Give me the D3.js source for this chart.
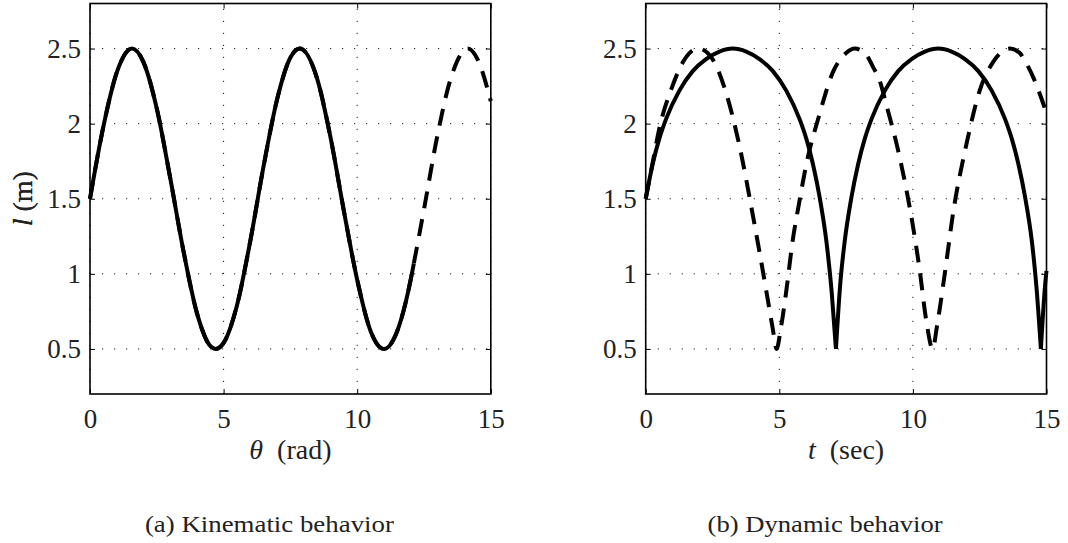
<!DOCTYPE html>
<html>
<head>
<meta charset="utf-8">
<script src="https://cdn.jsdelivr.net/npm/d3@7"></script>
<style>
  body { margin: 0; background: #fff; }
  svg text { font-family: "Liberation Serif", "DejaVu Serif", serif; fill: #222; }
</style>
</head>
<body>
<div id="fig"></div>
<script>
// (a) kinematic: l against theta
const thetaRad = [0, 0.5, 1, 1.57, 2, 2.5, 3, 3.5, 4, 4.5, 4.71, 5, 5.5, 6, 6.5, 7, 7.5, 7.85, 8.5, 9,
  9.5, 10, 10.5, 11, 11.5, 12, 12.12, 12.5, 13, 13.5, 14.14, 14.5, 15];
const lKinematic = [1.50, 1.98, 2.34, 2.50, 2.41, 2.10, 1.64, 1.15, 0.74, 0.52, 0.50, 0.54, 0.79, 1.22, 1.72, 2.16, 2.44, 2.50, 2.30, 1.91,
  1.42, 0.96, 0.62, 0.50, 0.62, 0.96, 1.07, 1.43, 1.92, 2.30, 2.50, 2.43, 2.15];
const kinematicSolidEnd = 12.12;

// (b) dynamic: l against time, solid and dashed runs
const tSolid = [0, 0.26, 0.51, 0.76, 1.26, 1.76, 2.26, 2.76, 3.26, 3.76, 4.26, 4.76, 5.26, 5.76, 6.01, 6.26, 6.51, 6.76, 6.96, 7.12,
  7.28, 7.45, 7.70, 7.95, 8.20, 8.45, 8.95, 9.45, 9.95, 10.45, 10.95, 11.45, 11.95, 12.45, 12.95, 13.45, 13.70, 13.95, 14.20, 14.45,
  14.63, 14.79, 14.95, 15];
const lSolid = [1.50, 1.73, 1.90, 2.03, 2.22, 2.35, 2.43, 2.48, 2.50, 2.48, 2.43, 2.35, 2.22, 2.03, 1.90, 1.73, 1.51, 1.22, 0.88, 0.50,
  0.93, 1.22, 1.51, 1.73, 1.90, 2.03, 2.22, 2.35, 2.43, 2.48, 2.50, 2.48, 2.43, 2.35, 2.22, 2.03, 1.90, 1.73, 1.51, 1.22,
  0.90, 0.50, 0.93, 1.02];
const tDashed = [0, 0.25, 0.5, 1, 1.5, 1.97, 2.5, 3, 3.5, 4, 4.5, 4.75, 4.9, 5.05, 5.25, 5.5, 5.75, 6, 6.5, 7,
  7.5, 7.83, 8.25, 8.5, 8.75, 9, 9.5, 10, 10.25, 10.5, 10.74, 10.9, 11.2, 11.5, 12, 12.5, 13, 13.64, 14, 14.25,
  14.5, 15];
const lDashed = [1.50, 1.73, 1.96, 2.25, 2.44, 2.50, 2.43, 2.21, 1.86, 1.40, 0.90, 0.64, 0.50, 0.63, 0.87, 1.22, 1.48, 1.72, 2.06, 2.34,
  2.47, 2.50, 2.46, 2.38, 2.29, 2.13, 1.78, 1.32, 1.03, 0.69, 0.50, 0.65, 1.01, 1.40, 1.86, 2.22, 2.41, 2.50, 2.47, 2.40,
  2.31, 2.07];

const xDomain = [0, 15];
const yDomain = [0.2, 2.8];
const xTicks = [0, 5, 10, 15];
const yTicks = [0.5, 1, 1.5, 2, 2.5];

const zip = (xs, ys) => xs.map((v, i) => ({x: v, y: ys[i]}));

// split a run at its local minima so each arc keeps a sharp cusp
function splitAtCusps(pts) {
  var segs = [], cur = [pts[0]];
  for (var i = 1; i < pts.length; i++) {
    cur.push(pts[i]);
    if (i < pts.length - 1 && pts[i].y < pts[i - 1].y && pts[i].y < pts[i + 1].y) {
      segs.push(cur);
      cur = [pts[i]];
    }
  }
  segs.push(cur);
  return segs;
}

class LengthPlot {
  constructor(_svg, _series, _params) {
    this.svg = _svg;
    this.series = _series;
    this.params = _params;
    this.initVis();
  }

  initVis() {
    var vis = this;
    var p = vis.params;

    vis.g = vis.svg.append("g")
      .attr("transform", `translate(${p.left},${p.top})`);

    vis.x = d3.scaleLinear().domain(xDomain).range([0, p.width]);
    vis.y = d3.scaleLinear().domain(yDomain).range([p.height, 0]);

    // dotted grid
    var grid = vis.g.append("g")
      .attr("stroke", "#000")
      .attr("stroke-width", 0.9)
      .attr("stroke-dasharray", "1.2,10.8");
    grid.selectAll(".gx").data(xTicks).join("line")
      .attr("x1", d => vis.x(d)).attr("x2", d => vis.x(d))
      .attr("y1", p.height).attr("y2", 0);
    grid.selectAll(".gy").data(yTicks).join("line")
      .attr("y1", d => vis.y(d)).attr("y2", d => vis.y(d))
      .attr("x1", 0).attr("x2", p.width);

    var line = d3.line()
      .x(d => vis.x(d.x))
      .y(d => vis.y(d.y))
      .curve(d3.curveMonotoneX);

    vis.g.selectAll(".series").data(vis.series).join("path")
      .attr("class", "series")
      .attr("d", d => d.cusps ? splitAtCusps(d.points).map(line).join("") : line(d.points))
      .attr("fill", "none")
      .attr("stroke", "#000")
      .attr("stroke-width", 4)
      .attr("stroke-linejoin", "round")
      .attr("stroke-dasharray", d => d.dashed ? "17,11" : null);

    // axes, ticks pointing inward on all four sides
    var fmt = d => String(d);
    vis.g.append("g")
      .attr("transform", `translate(0,${p.height})`)
      .call(d3.axisBottom(vis.x).tickValues(xTicks).tickFormat(fmt).tickSize(-5).tickSizeOuter(0).tickPadding(14.5));
    vis.g.append("g")
      .call(d3.axisLeft(vis.y).tickValues(yTicks).tickFormat(fmt).tickSize(-5).tickSizeOuter(0).tickPadding(9));
    vis.g.append("g")
      .call(d3.axisTop(vis.x).tickValues(xTicks).tickFormat("").tickSize(-5).tickSizeOuter(0));
    vis.g.append("g")
      .attr("transform", `translate(${p.width},0)`)
      .call(d3.axisRight(vis.y).tickValues(yTicks).tickFormat("").tickSize(-5).tickSizeOuter(0));

    vis.g.selectAll("g").attr("font-family", null).attr("font-size", null);
    vis.g.selectAll(".tick line").attr("stroke", "#000").attr("stroke-width", 1);
    vis.g.selectAll(".domain").remove();
    vis.g.selectAll(".tick text")
      .style("font-size", "27px")
      .attr("fill", "#222");

    vis.g.append("rect")
      .attr("width", p.width)
      .attr("height", p.height)
      .attr("fill", "none")
      .attr("stroke", "#000")
      .attr("stroke-width", 1.6);

    // axis labels
    var yl = vis.g.append("text")
      .attr("transform", `translate(${32 - p.left},${p.height / 2}) rotate(-90)`)
      .attr("text-anchor", "middle")
      .style("font-size", "28px");
    yl.append("tspan").attr("font-style", "italic").text("l");
    yl.append("tspan").text(" (m)");

    var xl = vis.g.append("text")
      .attr("x", p.width / 2)
      .attr("y", 459 - p.top)
      .attr("text-anchor", "middle")
      .style("font-size", "28px");
    xl.append("tspan").attr("font-style", "italic").text(p.xSymbol);
    xl.append("tspan").text("\u00a0\u00a0" + p.xUnit);

    vis.g.append("text")
      .attr("x", p.width / 2 - 21)
      .attr("y", 532 - p.top)
      .attr("text-anchor", "middle")
      .style("font-size", "23px")
      .attr("textLength", p.captionWidth)
      .attr("lengthAdjust", "spacingAndGlyphs")
      .text(p.caption);
  }
}

var svg = d3.select("#fig").append("svg")
  .attr("width", 1068)
  .attr("height", 543);

var kinematic = zip(thetaRad, lKinematic);
new LengthPlot(svg, [
  {dashed: true, points: kinematic},
  {dashed: false, points: kinematic.filter(d => d.x <= kinematicSolidEnd)}
], {left: 90, top: 3.5, width: 400.8, height: 390.5,
    xSymbol: "\u03b8", xUnit: "(rad)", caption: "(a) Kinematic behavior", captionWidth: 249});

new LengthPlot(svg, [
  {dashed: false, cusps: true, points: zip(tSolid, lSolid)},
  {dashed: true, points: zip(tDashed, lDashed)}
], {left: 645.7, top: 3.5, width: 400.8, height: 390.5,
    xSymbol: "t", xUnit: "(sec)", caption: "(b) Dynamic behavior", captionWidth: 235});
</script>
</body>
</html>
